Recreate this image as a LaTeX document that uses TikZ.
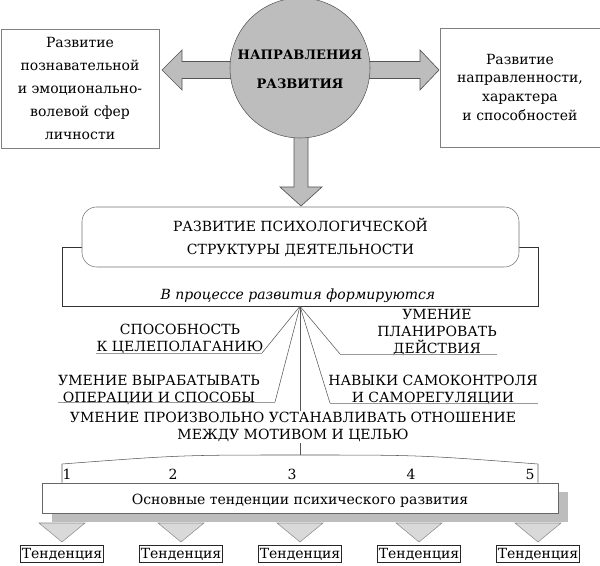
\documentclass[tikz,border=0pt]{standalone}
\usepackage{fontspec}
\setmainfont{DejaVu Serif}
\usetikzlibrary{positioning, shadows, calc}

\definecolor{circgray}{HTML}{BDBDBD}
\definecolor{trigray}{HTML}{D9D9D9}
\definecolor{linegray}{HTML}{555555}

\begin{document}
\begin{tikzpicture}[x=0.75pt, y=-0.75pt,
    every node/.style={font=\fontsize{10.5}{12.5}\selectfont, text=black},
    box/.style={draw=black!50, inner sep=0pt, align=center},
    fatarrow/.style={fill=circgray, draw=linegray, line width=0.5pt},
    caps/.style={align=center, inner sep=0pt},
    link/.style={draw=linegray, line width=0.4pt},
    uline/.style={draw=black!40, line width=0.6pt},
    tri/.style={fill=trigray, draw=black!45, line width=0.4pt},
    tend/.style={draw=black!85, line width=0.9pt,
        minimum width=61.5pt, minimum height=13pt, inner sep=1pt}]
    \useasboundingbox (0,0) rectangle (600,566);

    % top: directions
    \coordinate (ltip) at (162,70);
    \coordinate (rtip) at (439,70);
    \coordinate (dtip) at (301,206);
    \draw[fatarrow] (ltip) -- ++(20,-20) -- ++(0,11.5) -- ++(58,0) -- ++(0,17)
        -- ++(-58,0) -- ++(0,11.5) -- cycle;
    \draw[fatarrow] (rtip) -- ++(-19,-20) -- ++(0,11.5) -- ++(-60,0) -- ++(0,17)
        -- ++(60,0) -- ++(0,11.5) -- cycle;
    \draw[fatarrow] (dtip) -- ++(-21,-19) -- ++(14,0) -- ++(0,-67) -- ++(14,0)
        -- ++(0,67) -- ++(14,0) -- cycle;
    \node[circle, draw=linegray, fill=circgray, minimum size=105pt, inner sep=0pt,
        font=\fontsize{9.8}{21.75}\selectfont\bfseries] (dir) at (300,68)
        {\raisebox{-3.6pt}{\begin{tabular}{@{}c@{}}НАПРАВЛЕНИЯ\\РАЗВИТИЯ\end{tabular}}};
    \node[box, minimum width=118.5pt, minimum height=89.25pt,
        font=\fontsize{10.5}{17.25}\selectfont] (lbox) at (80,88.5)
        {Развитие\\познавательной\\и эмоционально-\\волевой сфер\\личности};
    \node[box, minimum width=120pt, minimum height=89.25pt,
        font=\fontsize{10.5}{14.25}\selectfont] (rbox) at (520,87.5)
        {Развитие\\направленности,\\характера\\и способностей};

    % structure of activity
    \node[draw=black!80, inner sep=0pt, minimum width=357pt, minimum height=44.25pt]
        (frame) at (300,276.5) {};
    \node[box, rounded corners=11pt, fill=white, draw=black!55,
        minimum width=327.75pt, minimum height=45pt,
        font=\fontsize{10.5}{17.25}\selectfont] (struct) at (300.5,237)
        {РАЗВИТИЕ ПСИХОЛОГИЧЕСКОЙ\\СТРУКТУРЫ ДЕЯТЕЛЬНОСТИ};
    \node[font=\fontsize{10.5}{12.5}\selectfont\itshape] (proc) at (298,296)
        {В процессе развития формируются};

    % what is formed
    \node[caps] (cel) at (180,339) {СПОСОБНОСТЬ\\К ЦЕЛЕПОЛАГАНИЮ};
    \node[caps] (plan) at (437,332.5) {УМЕНИЕ\\ПЛАНИРОВАТЬ\\ДЕЙСТВИЯ};
    \node[caps] (oper) at (159,390) {УМЕНИЕ ВЫРАБАТЫВАТЬ\\ОПЕРАЦИИ И СПОСОБЫ};
    \node[caps] (samo) at (433,390) {НАВЫКИ САМОКОНТРОЛЯ\\И САМОРЕГУЛЯЦИИ};
    \coordinate (e1) at (262,353);
    \coordinate (e2) at (340,354);
    \coordinate (e3) at (275,402);
    \coordinate (e4) at (330,403);
    \coordinate (btop) at (300,455);
    \draw[link] (frame.south) -- (e1);
    \draw[link] (frame.south) -- (e2);
    \draw[link] (frame.south) -- (e3);
    \draw[link] (frame.south) -- (e4);
    \draw[link] (frame.south) -- (btop);
    \draw[uline] (e1) -- (e1 -| cel.west);
    \draw[uline] (e2) -- (e2 -| plan.east);
    \draw[uline] (e3) -- (e3 -| oper.west);
    \draw[uline] (e4) -- (e4 -| samo.east);
    \node[caps, fill=white, inner ysep=1pt] (motiv) at (293,427)
        {УМЕНИЕ ПРОИЗВОЛЬНО УСТАНАВЛИВАТЬ ОТНОШЕНИЕ\\МЕЖДУ МОТИВОМ И ЦЕЛЬЮ};

    % main tendencies
    \node[box, draw=black!60, fill=white, minimum width=387pt, minimum height=22.5pt,
        text height=9.5pt, text depth=0pt,
        drop shadow={shadow xshift=7.5pt, shadow yshift=-7pt, fill=circgray, opacity=1}]
        (osn) at (300,498) {Основные тенденции психического развития};
    \coordinate (bl) at (62,464);
    \coordinate (br) at (538,464);
    \draw[link] (bl |- osn.north) -- (bl) .. controls (181,455) .. (btop)
        .. controls (419,455) .. (br) -- (br |- osn.north);
    \foreach \x [count=\i] in {67,173,292,411,530}
        \node (n\i) at (\x,474) {\i};
    \foreach \x [count=\i] in {62,181,300,419,538} {
        \node[tend] (t\i) at (\x,554) {Тенденция};
        \draw[tri] (\x-23,523) -- (\x+23,523) -- (\x,542) -- cycle;
    }
\end{tikzpicture}
\end{document}
